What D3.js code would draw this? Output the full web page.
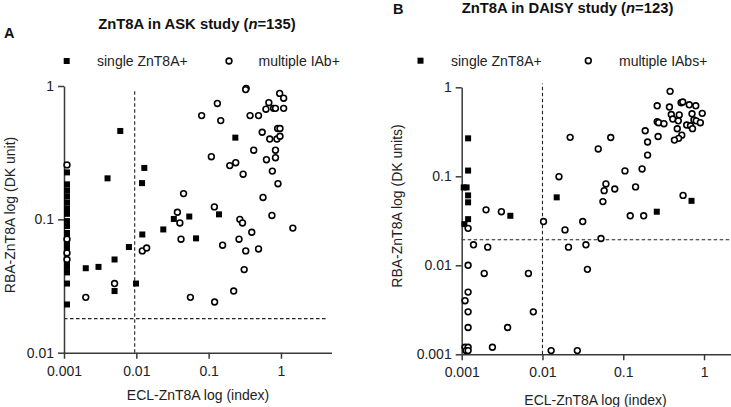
<!DOCTYPE html>
<html><head><meta charset="utf-8">
<script src="https://cdn.jsdelivr.net/npm/d3@7"></script>
<style>
html,body{margin:0;padding:0;background:#fff;}
svg{display:block;font-family:"Liberation Sans",Arial,sans-serif;}
</style></head>
<body>
<svg id="chart" width="731" height="407"></svg>
<script>
// ---------- DATA ----------
const xTickValues = [0.001, 0.01, 0.1, 1];
const xTickLabels = ["0.001", "0.01", "0.1", "1"];
const yTickValuesA = [0.01, 0.1, 1];
const yTickLabelsA = ["0.01", "0.1", "1"];
const yTickValuesB = [0.001, 0.01, 0.1, 1];
const yTickLabelsB = ["0.001", "0.01", "0.1", "1"];

// Panel A: ASK study — single ZnT8A+ (squares) [ECL index, RBA DK units]
const askSingle = [
  [0.0011,0.225],[0.0011,0.183],[0.0011,0.165],[0.0011,0.149],[0.0011,0.134],[0.0011,0.121],
  [0.0011,0.110],[0.0011,0.097],[0.0011,0.089],[0.0011,0.079],[0.0011,0.071],[0.0011,0.065],
  [0.0011,0.061],[0.0011,0.048],[0.0011,0.044],[0.0011,0.040],[0.0011,0.033],[0.0011,0.023],
  [0.006,0.46],[0.004,0.203],[0.0129,0.243],[0.012,0.187],[0.033,0.1007],[0.054,0.105],
  [0.0236,0.084],[0.067,0.072],[0.0121,0.077],[0.0079,0.062],[0.005,0.050],[0.003,0.044],
  [0.002,0.043],[0.005,0.029],[0.0099,0.033],[0.234,0.41],[0.139,0.109]
];
// Panel A: multiple IAb+ (open circles)
const askMultiple = [
  [0.0011,0.256],[0.0011,0.071],[0.0011,0.056],[0.0011,0.050],
  [0.33,0.96],[0.325,0.94],[0.96,0.88],[1.09,0.81],[0.132,0.74],[0.68,0.75],[0.62,0.67],
  [0.79,0.68],[0.84,0.68],[1.09,0.68],[0.080,0.60],[0.374,0.60],[0.49,0.60],[0.147,0.55],
  [0.55,0.45],[0.90,0.48],[0.97,0.48],[0.70,0.40],[0.88,0.40],[0.97,0.42],[0.42,0.33],
  [0.84,0.33],[0.109,0.295],[0.63,0.28],[0.84,0.29],[0.237,0.266],[0.196,0.253],[0.30,0.218],
  [0.76,0.23],[0.91,0.185],[0.045,0.156],[0.565,0.146],[0.037,0.113],[0.12,0.124],[0.75,0.107],
  [0.040,0.094],[0.27,0.10],[0.294,0.094],[0.395,0.080],[1.46,0.086],[0.0415,0.071],[0.263,0.071],
  [0.156,0.064],[0.49,0.060],[0.326,0.058],[0.31,0.042],[0.222,0.029],[0.121,0.024],[0.056,0.026],
  [0.0121,0.058],[0.0139,0.061],[0.005,0.033],[0.002,0.026]
];
// Panel B: DAISY study — single ZnT8A+
const daisySingle = [
  [0.0012,0.267],[0.0012,0.116],[0.00106,0.075],[0.00115,0.075],[0.0012,0.061],[0.0012,0.051],
  [0.0012,0.033],[0.00108,0.029],[0.004,0.036],[0.015,0.058],[0.70,0.053],[0.26,0.040]
];
// Panel B: multiple IAbs+
const daisyMultiple = [
  [0.0012,0.026],[0.002,0.042],[0.0031,0.040],[0.0103,0.031],[0.0014,0.017],[0.0021,0.016],
  [0.0012,0.010],[0.0019,0.0081],[0.0067,0.0081],[0.0012,0.005],[0.0011,0.0040],[0.0012,0.003],
  [0.0077,0.003],[0.0012,0.002],[0.0037,0.002],[0.0011,0.0012],[0.0012,0.0012],[0.00113,0.0011],
  [0.0012,0.0011],[0.0024,0.0012],[0.0128,0.0011],[0.027,0.0011],[0.019,0.025],[0.0315,0.031],
  [0.021,0.016],[0.0345,0.017],[0.053,0.020],[0.036,0.009],
  [0.38,0.90],[0.263,0.62],[0.373,0.60],[0.52,0.67],[0.545,0.684],[0.656,0.636],[0.79,0.62],
  [0.393,0.494],[0.493,0.489],[0.71,0.504],[0.95,0.51],[0.263,0.41],[0.274,0.40],[0.319,0.39],
  [0.41,0.44],[0.48,0.42],[0.75,0.43],[0.80,0.42],[0.90,0.40],[0.61,0.377],[0.68,0.37],
  [0.72,0.343],[0.466,0.342],[0.187,0.325],[0.53,0.29],[0.485,0.267],[0.43,0.255],[0.27,0.28],
  [0.20,0.243],[0.022,0.274],[0.070,0.273],[0.049,0.203],[0.20,0.173],[0.105,0.115],[0.171,0.121],
  [0.016,0.099],[0.061,0.082],[0.058,0.069],[0.0785,0.072],[0.142,0.076],[0.056,0.052],
  [0.55,0.061],[0.122,0.036],[0.179,0.036]
];
// Threshold (cut-off) lines: [x cut-off, y cut-off]
const askCutoff = [0.0095, 0.018];
const daisyCutoff = [0.01, 0.0194];

// ---------- DRAW ----------
const svg = d3.select("#chart");
const axisColor = "#3a3a3a";
const textColor = "#222";
const R = 2.9, SW = 1.6;

function panel(cfg) {
  const g = svg.append("g");
  const x = d3.scaleLog().domain(cfg.xDomain).range(cfg.xRange);
  const y = d3.scaleLog().domain(cfg.yDomain).range(cfg.yRange);

  // cut-off dashed lines
  g.append("line")
    .attr("x1", x(cfg.cutoff[0])).attr("x2", x(cfg.cutoff[0]))
    .attr("y1", y(cfg.yDomain[0])).attr("y2", y(cfg.vTop))
    .attr("stroke", "#222").attr("stroke-width", 1.1).attr("stroke-dasharray", "3.5,2.5");
  g.append("line")
    .attr("x1", x(cfg.xDomain[0])).attr("x2", x(cfg.hRight))
    .attr("y1", y(cfg.cutoff[1])).attr("y2", y(cfg.cutoff[1]))
    .attr("stroke", "#222").attr("stroke-width", 1.1).attr("stroke-dasharray", "3.5,2.5");

  // axes
  const xAxis = d3.axisBottom(x).tickValues(xTickValues)
    .tickFormat((d, i) => xTickLabels[i]).tickSize(6).tickSizeOuter(0).tickPadding(7);
  const yAxis = d3.axisLeft(y).tickValues(cfg.yTicks)
    .tickFormat((d, i) => cfg.yLabels[i]).tickSize(6).tickSizeOuter(0).tickPadding(4);
  const gx = g.append("g").attr("transform", `translate(0,${cfg.yRange[0]})`).call(xAxis);
  const gy = g.append("g").attr("transform", `translate(${cfg.xRange[0]},0)`).call(yAxis);
  [gx, gy].forEach(a => {
    a.selectAll("path,line").attr("stroke", axisColor).attr("stroke-width", 1.5);
    a.selectAll("text").attr("fill", textColor).style("font-size", "14px")
      .style("font-family", '"Liberation Sans",Arial,sans-serif');
  });

  // single (squares)
  const s = 6;
  g.append("g").selectAll("rect").data(cfg.single).join("rect")
    .attr("x", d => x(d[0]) - s / 2).attr("y", d => y(d[1]) - s / 2)
    .attr("width", s).attr("height", s).attr("fill", "#000");
  // multiple (circles)
  g.append("g").selectAll("circle").data(cfg.multiple).join("circle")
    .attr("cx", d => x(d[0])).attr("cy", d => y(d[1])).attr("r", R)
    .attr("fill", "#fff").attr("stroke", "#000").attr("stroke-width", SW);

  // axis titles
  g.append("text").attr("x", cfg.xLabelPos[0]).attr("y", cfg.xLabelPos[1])
    .attr("text-anchor", "middle").attr("fill", textColor).style("font-size", "14px")
    .text("ECL-ZnT8A log (index)");
  g.append("text").attr("transform", `translate(${cfg.yLabelPos[0]},${cfg.yLabelPos[1]}) rotate(-90)`)
    .attr("text-anchor", "middle").attr("fill", textColor).style("font-size", "14px")
    .text(cfg.yTitle);

  // title + letter
  const t = g.append("text").attr("x", cfg.titlePos[0]).attr("y", cfg.titlePos[1])
    .attr("text-anchor", "middle").attr("fill", "#111").style("font-size", "14.8px").style("font-weight", "bold");
  t.append("tspan").text(cfg.titleMain + " (");
  t.append("tspan").style("font-style", "italic").text("n");
  t.append("tspan").text("=" + cfg.n + ")");
  g.append("text").attr("x", cfg.letterPos[0]).attr("y", cfg.letterPos[1])
    .attr("fill", "#111").style("font-size", "14.5px").style("font-weight", "bold").text(cfg.letter);

  // legend
  const L = cfg.legend;
  g.append("rect").attr("x", L.sq[0] - 3).attr("y", L.sq[1] - 3).attr("width", 6).attr("height", 6).attr("fill", "#000");
  g.append("text").attr("x", L.t1[0]).attr("y", L.t1[1]).attr("fill", textColor).style("font-size", "14px").text("single ZnT8A+");
  g.append("circle").attr("cx", L.ci[0]).attr("cy", L.ci[1]).attr("r", R)
    .attr("fill", "#fff").attr("stroke", "#000").attr("stroke-width", SW);
  g.append("text").attr("x", L.t2[0]).attr("y", L.t2[1]).attr("fill", textColor).style("font-size", "14px").text(L.label2);
}

panel({
  xDomain: [0.001, 5], xRange: [64, 331.5],
  yDomain: [0.01, 1], yRange: [352.7, 86],
  yTicks: yTickValuesA, yLabels: yTickLabelsA,
  cutoff: askCutoff, vTop: 0.95, hRight: 4.35,
  single: askSingle, multiple: askMultiple,
  xLabelPos: [198, 399.5], yLabelPos: [14.5, 215],
  yTitle: "RBA-ZnT8A log (DK unit)",
  titleMain: "ZnT8A in ASK study", n: 135, titlePos: [197, 29],
  letter: "A", letterPos: [4, 38],
  legend: { sq: [66.7, 61], t1: [97, 66], ci: [229, 61], t2: [258.5, 66], label2: "multiple IAb+" }
});

panel({
  xDomain: [0.001, 2.2], xRange: [461.7, 731.7],
  yDomain: [0.001, 1], yRange: [354.3, 87.3],
  yTicks: yTickValuesB, yLabels: yTickLabelsB,
  cutoff: daisyCutoff, vTop: 1.1, hRight: 2.2,
  single: daisySingle, multiple: daisyMultiple,
  xLabelPos: [595.5, 405], yLabelPos: [402, 206],
  yTitle: "RBA-ZnT8A log (DK units)",
  titleMain: "ZnT8A in DAISY study", n: 123, titlePos: [567.5, 13],
  letter: "B", letterPos: [393, 14],
  legend: { sq: [420.5, 60.7], t1: [451, 66], ci: [588.3, 60.7], t2: [619, 66], label2: "multiple IAbs+" }
});
</script>
</body></html>
